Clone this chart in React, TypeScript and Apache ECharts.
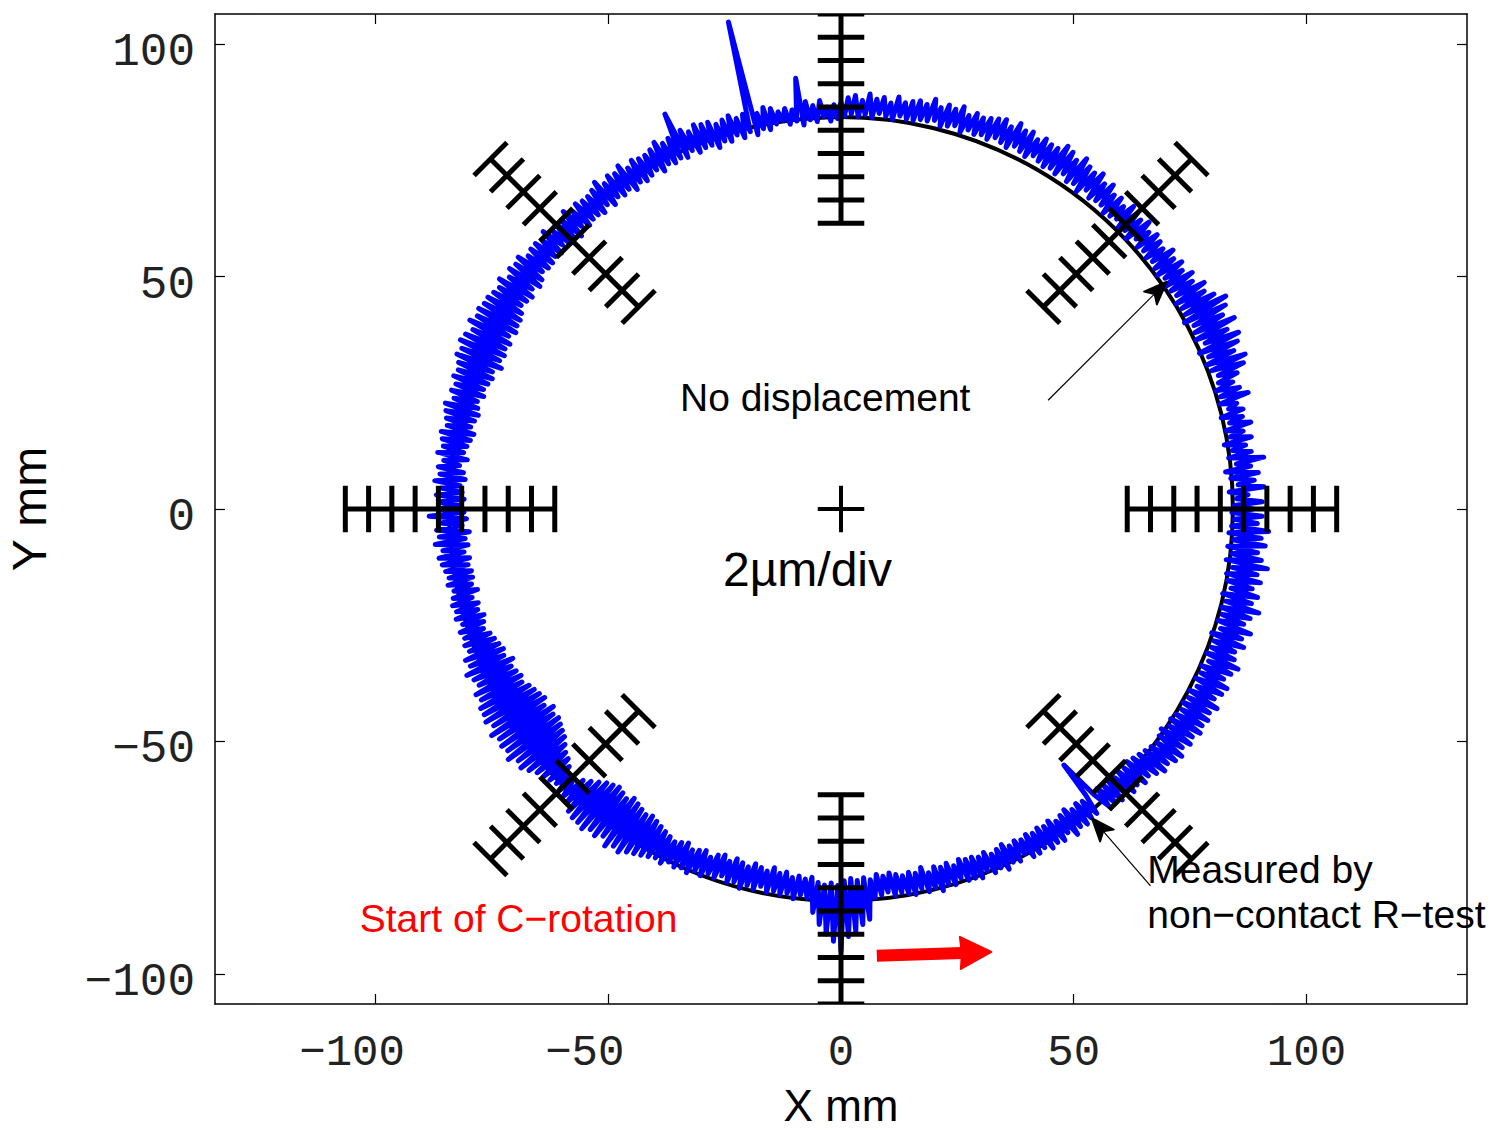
import React, { useEffect, useRef } from "react";
import * as echarts from "echarts";

// ---- axes ----
const X_TICKS = [-100, -50, 0, 50, 100];
const Y_TICKS = [-100, -50, 0, 50, 100];
const X_MIN = -134.5;
const X_MAX = 134.5;
const Y_MIN = -106.5;
const Y_MAX = 106.5;

// ---- nominal path (no displacement) ----
const NOMINAL_CIRCLE = [0, 0, 84.2]; // cx, cy, radius (mm)

// ---- scale ladders, 2 µm/div ----
const LADDER_ANGLES = [0, 45, 90, 135, 180, 225, 270, 315];
const LADDER_CENTER_R = 84;
const LADDER_OFFSETS = [-22.5, -17.5, -12.5, -7.5, -2.5, 2.5, 7.5, 12.5, 17.5, 22.5];
const LADDER_TICK_HALF = 5;
const CENTER_CROSS_HALF = 5;

// ---- measured trajectory: plotted radius (mm) every 0.5 degree, 0..359.5 ----
const STEP_DEG = 0.5;
const MEASURED_R = [
  88.5, 84.5, 90.5, 85.0, 87.5, 83.5, 91.0, 85.5, 89.0, 84.0, 90.0, 83.0, 88.5, 85.5, 91.5, 84.0, 89.0, 85.0, 88.0, 83.5,
  89.5, 85.0, 88.0, 84.5, 90.0, 85.5, 88.5, 84.0, 89.0, 86.0, 88.0, 84.5, 91.0, 85.0, 89.5, 84.5, 88.5, 85.5, 90.0, 86.0,
  92.0, 85.0, 93.0, 84.5, 91.0, 85.5, 92.5, 84.0, 93.5, 86.0, 91.5, 84.5, 94.0, 85.0, 92.0, 85.5, 93.5, 84.0, 94.5, 85.0,
  92.5, 85.0, 91.0, 84.5, 92.0, 85.5, 90.0, 85.0, 91.0, 84.5, 89.5, 85.5, 90.5, 84.5, 89.5, 85.0, 90.5, 85.5, 89.0, 85.0,
  89.5, 85.5, 90.0, 85.0, 89.0, 86.0, 90.5, 84.5, 89.5, 85.5, 90.0, 85.0, 90.5, 86.0, 89.0, 85.5, 90.0, 85.0, 89.5, 86.0,
  91.0, 86.0, 90.0, 85.5, 91.5, 86.5, 90.5, 85.0, 91.0, 86.0, 92.0, 85.5, 90.5, 86.5, 91.5, 85.5, 92.0, 86.0, 90.5, 85.5,
  90.5, 86.0, 91.0, 86.5, 90.0, 85.5, 91.0, 86.0, 90.5, 86.5, 91.5, 85.5, 90.0, 86.0, 91.0, 86.5, 90.5, 85.5, 90.0, 86.0,
  89.5, 85.5, 90.0, 86.0, 89.0, 85.0, 90.5, 86.0, 89.5, 85.5, 90.0, 85.0, 89.0, 86.0, 90.5, 85.5, 89.0, 85.5, 89.5, 85.0,
  89.0, 85.0, 88.5, 85.5, 89.5, 84.5, 88.0, 85.0, 89.0, 85.5, 88.5, 84.5, 89.5, 85.0, 88.0, 84.5, 89.0, 85.0, 88.5, 84.5,
  87.5, 84.0, 87.0, 83.5, 86.5, 84.5, 88.0, 83.5, 87.0, 84.0, 88.0, 83.0, 93.2, 84.0, 86.5, 83.5, 87.0, 84.5, 86.5, 84.0,
  87.5, 83.0, 88.0, 83.5, 87.0, 82.5, 107.5, 83.5, 87.5, 82.5, 87.0, 83.5, 88.0, 82.5, 87.5, 83.0, 87.0, 82.0, 88.0, 83.0,
  88.0, 83.0, 88.5, 82.5, 87.5, 83.5, 88.5, 82.5, 93.0, 83.0, 88.0, 82.5, 87.5, 83.0, 88.5, 82.0, 87.5, 83.0, 87.0, 82.5,
  87.0, 82.0, 87.5, 82.5, 86.5, 81.5, 88.0, 82.5, 87.0, 82.0, 87.5, 82.5, 86.5, 81.5, 88.0, 82.5, 87.0, 81.5, 86.5, 82.0,
  86.5, 82.0, 87.0, 81.5, 86.0, 82.5, 87.5, 81.0, 86.5, 82.0, 87.0, 81.5, 86.0, 82.5, 87.5, 81.5, 86.5, 82.0, 87.0, 81.5,
  87.0, 81.5, 86.5, 82.0, 88.0, 81.0, 87.5, 80.5, 88.0, 81.5, 87.0, 80.5, 88.5, 81.0, 87.5, 81.5, 88.0, 80.5, 88.5, 80.0,
  88.5, 80.0, 89.0, 79.5, 88.5, 80.5, 89.5, 79.5, 88.0, 80.0, 89.0, 79.5, 89.5, 80.0, 88.5, 79.0, 89.0, 80.5, 88.0, 80.0,
  87.5, 80.5, 88.0, 81.0, 87.0, 80.5, 87.5, 81.5, 86.5, 81.0, 88.0, 80.5, 87.5, 81.0, 87.0, 81.5, 86.5, 80.5, 87.5, 81.0,
  87.0, 81.5, 86.5, 82.0, 87.5, 81.0, 86.0, 82.5, 87.0, 81.5, 86.5, 81.0, 87.5, 82.0, 86.0, 81.5, 87.0, 81.0, 86.5, 82.0,
  86.5, 81.0, 88.5, 80.5, 86.0, 81.5, 87.0, 80.0, 86.5, 81.0, 87.5, 80.5, 86.0, 81.5, 87.0, 80.5, 86.5, 81.0, 86.0, 80.5,
  85.5, 80.5, 86.0, 81.0, 85.0, 80.0, 85.5, 81.5, 86.0, 80.5, 85.5, 81.0, 86.0, 80.0, 85.0, 80.5, 86.0, 81.0, 85.5, 80.0,
  86.0, 79.5, 85.5, 79.0, 87.0, 78.5, 86.5, 79.0, 88.0, 77.5, 87.0, 78.5, 86.5, 78.0, 88.0, 77.5, 87.5, 78.0, 88.5, 77.0,
  88.5, 76.5, 89.0, 76.0, 88.0, 75.5, 89.5, 76.5, 88.5, 75.0, 89.0, 76.0, 88.5, 75.5, 89.5, 76.0, 88.0, 76.5, 88.5, 77.0,
  87.5, 78.0, 86.5, 79.0, 86.0, 79.5, 85.5, 80.5, 85.0, 82.0, 85.5, 82.5, 86.0, 80.5, 86.5, 79.5, 87.5, 78.5, 88.0, 77.5,
  88.0, 77.0, 88.5, 76.5, 87.5, 77.0, 88.0, 77.5, 87.0, 76.5, 88.5, 77.0, 87.5, 77.5, 88.0, 78.0, 87.0, 77.5, 86.5, 78.0,
  86.0, 78.5, 85.5, 79.0, 85.0, 79.5, 85.5, 80.0, 84.5, 79.5, 85.0, 79.0, 84.5, 80.0, 85.0, 79.5, 84.0, 79.0, 84.5, 80.0,
  83.5, 79.0, 84.0, 78.5, 83.0, 79.5, 84.0, 78.5, 83.5, 79.0, 84.5, 79.5, 83.5, 78.5, 84.0, 79.0, 83.0, 79.5, 84.0, 78.5,
  83.5, 79.5, 84.0, 79.0, 83.5, 80.0, 84.5, 79.5, 83.5, 80.0, 84.0, 79.5, 87.0, 80.5, 89.5, 81.0, 91.5, 80.5, 93.0, 81.0,
  95.0, 80.0, 92.0, 79.5, 91.0, 80.0, 89.5, 79.5, 88.5, 80.0, 84.0, 79.0, 83.5, 79.5, 83.0, 79.0, 84.0, 79.5, 83.5, 80.0,
  84.0, 79.5, 84.5, 80.0, 83.5, 79.0, 84.5, 80.5, 84.0, 79.5, 85.0, 80.0, 84.0, 79.5, 84.5, 80.5, 83.5, 79.5, 84.5, 80.0,
  84.5, 80.0, 85.0, 80.5, 84.0, 80.0, 85.0, 81.0, 84.5, 80.5, 85.5, 80.0, 84.5, 81.0, 85.0, 80.5, 84.0, 81.0, 85.5, 80.5,
  85.5, 81.0, 85.0, 80.5, 86.0, 81.0, 85.5, 80.5, 86.0, 81.5, 85.0, 81.0, 86.5, 80.5, 85.5, 81.5, 86.0, 81.0, 85.5, 81.5,
  85.5, 81.0, 73.0, 82.0, 86.0, 81.5, 86.5, 82.0, 87.0, 81.5, 86.5, 82.5, 87.5, 82.0, 87.0, 82.5, 88.0, 82.0, 87.5, 82.5,
  88.5, 83.0, 89.5, 83.5, 89.0, 84.0, 90.0, 84.5, 90.5, 84.0, 89.5, 83.5, 90.5, 84.5, 90.0, 84.0, 91.0, 84.5, 90.5, 85.0,
  91.0, 84.5, 90.5, 85.0, 91.5, 84.5, 90.0, 85.5, 91.0, 84.5, 91.5, 85.0, 90.0, 84.5, 91.0, 85.5, 92.0, 84.5, 90.5, 85.0,
  90.0, 85.0, 91.5, 84.0, 90.5, 85.5, 92.0, 84.5, 90.0, 85.0, 91.0, 84.5, 92.5, 85.0, 90.5, 84.0, 91.5, 85.5, 90.0, 84.5,
  91.5, 84.0, 90.5, 85.0, 92.5, 83.5, 91.0, 84.5, 90.0, 83.5, 91.5, 84.5, 90.5, 83.5, 92.0, 84.0, 89.5, 84.5, 90.5, 84.0,
];
const START_DEG = 270; // start of C-rotation

// ---- annotations (data coordinates, mm) ----
const NO_DISP_TEXT = { text: "No displacement", at: [-34.6, 24.0] };
const NO_DISP_ARROW = { from: [44.5, 23.4], to: [70.0, 48.9] };
const SCALE_TEXT = { text: "2\u00b5m/div", at: [-7.2, -13.1] };
const MEASURED_TEXT = { lines: ["Measured by", "non\u2212contact R\u2212test"], at: [65.8, -77.5], lineGap: -9.7 };
const MEASURED_ARROW = { from: [66.5, -81.1], to: [53.9, -66.5] };
const START_TEXT = { text: "Start of C\u2212rotation", at: [-103.4, -88.0] };
const START_ARROW = { from: [7.7, -96.1], to: [32.3, -95.3] };

const LABEL_FONT = "'Liberation Mono', 'DejaVu Sans Mono', monospace";
const SANS = "'Liberation Sans', Arial, Helvetica, sans-serif";

function buildMeasured() {
  const pts: number[][] = [];
  const n = MEASURED_R.length;
  const startIdx = Math.round(START_DEG / STEP_DEG);
  for (let k = 0; k <= n; k++) {
    const i = (startIdx + k) % n;
    const a = (i * STEP_DEG * Math.PI) / 180;
    const r = MEASURED_R[i];
    pts.push([r * Math.cos(a), r * Math.sin(a)]);
  }
  return pts;
}

function fmtX(v: number) {
  if (v < 0) return "{neg|\u2212" + Math.abs(v) + "}";
  return "{pos|" + v + "}";
}

function fmtY(v: number) {
  return "{t|" + (v < 0 ? "\u2212" + Math.abs(v) : String(v)) + "}";
}

export default function App() {
  const ref = useRef<HTMLDivElement>(null);
  useEffect(() => {
    const el = ref.current!;
    const chart = echarts.init(el, null, { renderer: "svg" });

    const tickTextY = { fontFamily: LABEL_FONT, fontSize: 46, color: "#222", fontWeight: "normal" };
    const tickTextX = { fontFamily: LABEL_FONT, fontSize: 44, color: "#222", fontWeight: "normal", lineHeight: 34 };

    const axisCommon = {
      type: "value",
      splitLine: { show: false },
      axisLine: { show: true, onZero: false, lineStyle: { color: "#000", width: 1.5 } },
    };

    const option: any = {
      animation: false,
      backgroundColor: "#fff",
      grid: { left: 215, top: 14, right: 26, bottom: 126, containLabel: false, outerBoundsMode: "none" },
      xAxis: [
        {
          ...axisCommon,
          position: "bottom",
          min: X_MIN,
          max: X_MAX,
          axisTick: { show: true, inside: true, length: 10, customValues: X_TICKS, lineStyle: { color: "#000", width: 1.2 } },
          axisLabel: {
            show: true,
            customValues: X_TICKS,
            margin: 32,
            formatter: fmtX,
            rich: {
              neg: { ...tickTextX, padding: [0, 47, 0, 0] },
              pos: { ...tickTextX },
            },
          },
          name: "X mm",
          nameLocation: "middle",
          nameGap: 83,
          nameMoveOverlap: false,
          nameTextStyle: { fontFamily: SANS, fontSize: 44, lineHeight: 36, color: "#000" },
        },
        {
          ...axisCommon,
          position: "top",
          min: X_MIN,
          max: X_MAX,
          axisTick: { show: true, inside: true, length: 10, customValues: X_TICKS, lineStyle: { color: "#000", width: 1.2 } },
          axisLabel: { show: false },
        },
      ],
      yAxis: [
        {
          ...axisCommon,
          position: "left",
          min: Y_MIN,
          max: Y_MAX,
          axisTick: { show: true, inside: true, length: 10, customValues: Y_TICKS, lineStyle: { color: "#000", width: 1.2 } },
          axisLabel: {
            show: true,
            customValues: Y_TICKS,
            margin: 20,
            formatter: fmtY,
            rich: {
              t: { ...tickTextY, padding: [18, 0, 0, 0] },
            },
          },
          name: "Y mm",
          nameLocation: "middle",
          nameGap: 162,
          nameTextStyle: { fontFamily: SANS, fontSize: 48, color: "#000" },
        },
        {
          ...axisCommon,
          position: "right",
          min: Y_MIN,
          max: Y_MAX,
          axisTick: { show: true, inside: true, length: 10, customValues: Y_TICKS, lineStyle: { color: "#000", width: 1.2 } },
          axisLabel: { show: false },
        },
      ],
      series: [
        {
          name: "No displacement",
          type: "custom",
          z: 2,
          clip: true,
          data: [NOMINAL_CIRCLE],
          encode: { x: 0, y: 1 },
          renderItem: (params: any, api: any) => {
            const c = api.coord([api.value(0), api.value(1)]);
            const r = api.size([api.value(2), 0])[0];
            return {
              type: "circle",
              shape: { cx: c[0], cy: c[1], r },
              style: { fill: "none", stroke: "#000", lineWidth: 4 },
            };
          },
        },
        {
          name: "Measured",
          type: "line",
          z: 3,
          clip: true,
          showSymbol: false,
          symbol: "none",
          data: buildMeasured(),
          lineStyle: { color: "#0000ff", width: 5, cap: "round", join: "round" },
        },
        {
          name: "Ladders",
          type: "custom",
          z: 4,
          clip: true,
          data: LADDER_ANGLES.map((a) => [0, 0, a]),
          encode: { x: 0, y: 1 },
          renderItem: (params: any, api: any) => {
            const ang = (api.value(2) * Math.PI) / 180;
            const ux = Math.cos(ang);
            const uy = Math.sin(ang);
            const nx = -uy;
            const ny = ux;
            const ox = api.value(0);
            const oy = api.value(1);
            const p = (r: number, s: number) => api.coord([ox + ux * r + nx * s, oy + uy * r + ny * s]);
            const r0 = LADDER_CENTER_R + LADDER_OFFSETS[0];
            const r1 = LADDER_CENTER_R + LADDER_OFFSETS[LADDER_OFFSETS.length - 1];
            const a = p(r0, 0);
            const b = p(r1, 0);
            const style = { stroke: "#000", lineWidth: 5 };
            const children: any[] = [
              { type: "line", shape: { x1: a[0], y1: a[1], x2: b[0], y2: b[1] }, style },
            ];
            LADDER_OFFSETS.forEach((o) => {
              const q1 = p(LADDER_CENTER_R + o, -LADDER_TICK_HALF);
              const q2 = p(LADDER_CENTER_R + o, LADDER_TICK_HALF);
              children.push({ type: "line", shape: { x1: q1[0], y1: q1[1], x2: q2[0], y2: q2[1] }, style });
            });
            return { type: "group", children };
          },
        },
        {
          name: "Centre",
          type: "custom",
          z: 4,
          data: [[0, 0]],
          encode: { x: 0, y: 1 },
          renderItem: (params: any, api: any) => {
            const x = api.value(0);
            const y = api.value(1);
            const h1 = api.coord([x - CENTER_CROSS_HALF, y]);
            const h2 = api.coord([x + CENTER_CROSS_HALF, y]);
            const v1 = api.coord([x, y - CENTER_CROSS_HALF]);
            const v2 = api.coord([x, y + CENTER_CROSS_HALF]);
            const style = { stroke: "#000", lineWidth: 4 };
            return {
              type: "group",
              children: [
                { type: "line", shape: { x1: h1[0], y1: h1[1], x2: h2[0], y2: h2[1] }, style },
                { type: "line", shape: { x1: v1[0], y1: v1[1], x2: v2[0], y2: v2[1] }, style },
              ],
            };
          },
        },
      ],
    };

    chart.setOption(option);

    const px = (p: number[]) => chart.convertToPixel({ xAxisIndex: 0, yAxisIndex: 0 }, p) as number[];

    const arrow = (fromD: number[], toD: number[], color: string, lw: number, len: number, halfW: number, notch: number) => {
      const t = px(toD);
      const f = px(fromD);
      const dx = t[0] - f[0];
      const dy = t[1] - f[1];
      const d = Math.hypot(dx, dy);
      const ux = dx / d;
      const uy = dy / d;
      const nx = -uy;
      const ny = ux;
      const bx = t[0] - ux * len;
      const by = t[1] - uy * len;
      const mx = t[0] - ux * len * notch;
      const my = t[1] - uy * len * notch;
      return [
        {
          type: "line",
          z: 100,
          shape: { x1: f[0], y1: f[1], x2: mx, y2: my },
          style: { stroke: color, lineWidth: lw },
        },
        {
          type: "polygon",
          z: 101,
          shape: {
            points: [
              [t[0], t[1]],
              [bx + nx * halfW, by + ny * halfW],
              [mx, my],
              [bx - nx * halfW, by - ny * halfW],
            ],
          },
          style: { fill: color, stroke: color, lineWidth: 2, lineJoin: "round" },
        },
      ];
    };

    const text = (s: string, at: number[], size: number, color: string, align: string) => {
      const p = px(at);
      return {
        type: "text",
        z: 102,
        x: p[0],
        y: p[1],
        style: {
          text: s,
          fontFamily: SANS,
          fontSize: size,
          fill: color,
          align,
          verticalAlign: "middle",
        },
      };
    };

    const graphic: any[] = [
      text(NO_DISP_TEXT.text, NO_DISP_TEXT.at, 39, "#000", "left"),
      text(SCALE_TEXT.text, SCALE_TEXT.at, 48, "#000", "center"),
      text(MEASURED_TEXT.lines[0], MEASURED_TEXT.at, 39, "#000", "left"),
      text(MEASURED_TEXT.lines[1], [MEASURED_TEXT.at[0], MEASURED_TEXT.at[1] + MEASURED_TEXT.lineGap], 39, "#000", "left"),
      text(START_TEXT.text, START_TEXT.at, 39, "#ff0000", "left"),
      ...arrow(NO_DISP_ARROW.from, NO_DISP_ARROW.to, "#000", 1.2, 23, 9, 0.75),
      ...arrow(MEASURED_ARROW.from, MEASURED_ARROW.to, "#000", 1.2, 23, 9, 0.75),
      ...arrow(START_ARROW.from, START_ARROW.to, "#ff0000", 12, 31, 16, 0.95),
    ];

    chart.setOption({ graphic });

    return () => chart.dispose();
  }, []);

  return (
    <div
      ref={ref}
      style={{ position: "fixed", left: 0, top: 0, width: 1493, height: 1130, background: "#fff" }}
    />
  );
}
